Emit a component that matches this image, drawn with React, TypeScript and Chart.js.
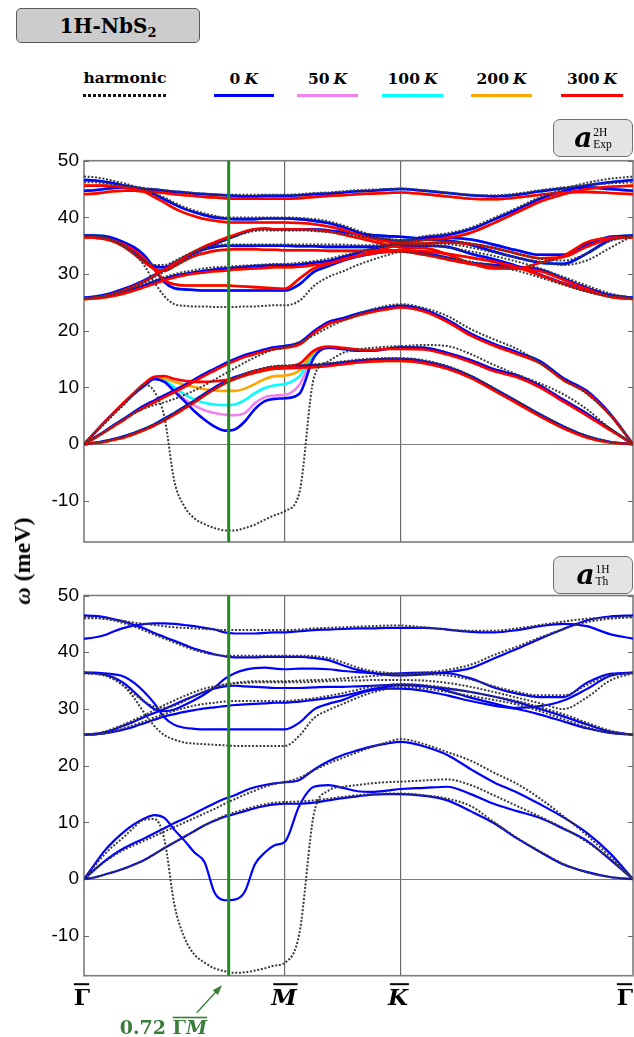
import React, { useEffect, useRef } from "react";
import { Chart, registerables } from "chart.js";
Chart.register(...registerables);

// ---------- path coordinates (Γ–M = 1, M–K = 0.577, K–Γ = 1.155) ----------
const KPATH = [
  0, 0.05, 0.1, 0.15, 0.2, 0.25, 0.3, 0.35, 0.4, 0.45, 0.5, 0.55, 0.6, 0.65, 0.7, 0.75, 0.8, 0.85, 0.9, 0.95, 1,
  1.072, 1.144, 1.216, 1.289, 1.361, 1.433, 1.505, 1.577,
  1.693, 1.808, 1.924, 2.039, 2.155, 2.27, 2.386, 2.501, 2.617, 2.732,
];
const HS_POS = [0, 1, 1.577, 2.732];
const HS_LABELS = ["Γ", "M", "K", "Γ"];
const Y_TICKS = [-10, 0, 10, 20, 30, 40, 50];
const CUT_POS = 0.72;
const CUT_LABEL = "0.72";
const TEMPS = ["0", "50", "100", "200", "300"];

// ---------- top panel: harmonic (a_Exp 2H) ----------
const H_EXP_ZA = [
  0, 0.2, 0.5, 0.9, 1.4, 2.0, 2.7, 3.5, 4.4, 5.4, 6.5, 7.6, 8.7, 9.8, 10.8, 11.7, 12.4, 13.0, 13.5, 13.8, 13.9,
  14.0, 14.1, 14.3, 14.6, 14.9, 15.1, 15.2, 15.2,
  14.8, 13.8, 12.1, 9.9, 7.6, 5.3, 3.2, 1.5, 0.4, 0,
];
const H_EXP_LA = [
  0, 1.1, 2.2, 3.4, 4.5, 5.5, 6.3, 6.9, 7.4, 8.0, 8.7, 9.5, 10.4, 11.4, 12.4, 13.4, 14.4, 15.3, 16.1, 16.7, 17.1,
  18.0, 19.2, 20.6, 21.8, 22.9, 23.8, 24.4, 24.7,
  24.0, 22.6, 20.3, 18.5, 16.8, 14.3, 11.4, 8.9, 5.2, 0,
];
const H_EXP_SOFT = [
  0, 1.8, 3.5, 5.3, 7.0, 8.9, 10.5, 9.3, 4.8, -6.6, -11.0, -13.1, -14.1, -14.8, -15.2, -15.2, -14.8, -14.2, -13.3, -12.5, -11.8,
  -8.5, 11.7, 14.6, 16.1, 16.7, 17.0, 17.2, 17.3,
  17.5, 17.3, 15.9, 14.0, 12.3, 10.7, 8.8, 6.2, 2.8, 0,
];
const H_EXP_O1 = [
  25.8, 25.9, 26.1, 26.5, 27.0, 27.6, 28.3, 28.9, 29.5, 30.0, 30.4, 30.7, 31.0, 31.2, 31.3, 31.4, 31.5, 31.6, 31.7, 31.8, 31.8,
  32.0, 32.3, 32.7, 33.3, 33.9, 34.5, 35.0, 35.4,
  35.4, 35.3, 34.7, 33.8, 32.9, 32.2, 31.6, 32.4, 34.6, 36.8,
];
const H_EXP_O2 = [
  25.8, 25.9, 26.2, 26.6, 27.2, 27.8, 28.6, 29.5, 30.4, 31.4, 32.4, 33.4, 34.3, 35.1, 35.9, 36.6, 37.2, 37.6, 37.7, 37.7, 37.7,
  37.7, 37.6, 37.4, 37.1, 36.7, 36.4, 36.2, 36.0,
  36.0, 35.8, 35.4, 34.6, 33.6, 32.7, 32.4, 33.6, 35.8, 36.8,
];
const H_EXP_O3 = [
  36.8, 36.8, 36.6, 36.0, 35.0, 33.6, 31.5, 28.6, 26.1, 24.7, 24.4, 24.3, 24.3, 24.2, 24.2, 24.2, 24.3, 24.3, 24.4, 24.5, 24.5,
  25.3, 27.9, 29.5, 30.5, 31.6, 32.5, 33.3, 33.9,
  33.5, 32.9, 32.2, 31.5, 30.6, 29.4, 28.1, 26.9, 26.1, 25.8,
];
const H_EXP_O4 = [
  36.8, 36.7, 36.4, 35.8, 34.8, 33.6, 32.4, 31.6, 31.6, 32.3, 33.2, 34.0, 34.6, 35.0, 35.2, 35.2, 35.2, 35.2, 35.2, 35.2, 35.2,
  35.2, 35.2, 35.2, 35.2, 35.1, 35.1, 35.1, 35.1,
  35.0, 34.7, 34.0, 33.2, 32.2, 31.0, 29.5, 28.0, 26.6, 25.8,
];
const H_EXP_T1 = [
  47.2, 47.1, 46.8, 46.4, 46.0, 45.5, 45.0, 44.3, 43.5, 42.6, 41.8, 41.2, 40.7, 40.3, 40.0, 40.0, 40.0, 40.0, 40.0, 40.0, 40.0,
  39.9, 39.7, 39.3, 38.6, 37.7, 36.9, 36.3, 36.0,
  36.7, 37.2, 38.2, 39.9, 41.7, 43.6, 45.0, 46.1, 46.8, 47.2,
];
const H_EXP_T2 = [
  46.2, 46.2, 46.0, 45.8, 45.6, 45.4, 45.2, 45.0, 44.8, 44.6, 44.5, 44.3, 44.2, 44.1, 44.0, 44.0, 44.0, 44.0, 44.0, 44.0, 44.0,
  44.1, 44.3, 44.4, 44.6, 44.8, 44.9, 45.0, 45.1,
  44.8, 44.4, 44.0, 43.9, 44.2, 44.8, 45.3, 45.7, 46.0, 46.2,
];

// ---------- top panel: anharmonic 0 K ----------
const EXP0_ZA = [
  0, 0.2, 0.5, 0.9, 1.4, 2.0, 2.7, 3.5, 4.5, 5.5, 6.6, 7.7, 8.9, 10.0, 11.0, 11.8, 12.4, 12.9, 13.3, 13.6, 13.7,
  13.8, 13.9, 14.1, 14.4, 14.7, 14.9, 15.0, 15.0,
  14.6, 13.6, 12.0, 9.8, 7.5, 5.2, 3.1, 1.4, 0.4, 0,
];
const EXP0_LA = [
  0, 1.1, 2.2, 3.4, 4.5, 5.7, 6.8, 7.7, 8.6, 9.5, 10.4, 11.4, 12.4, 13.3, 14.2, 15.0, 15.7, 16.2, 16.7, 17.1, 17.3,
  17.9, 19.9, 21.5, 22.2, 23.0, 23.6, 24.1, 24.4,
  23.7, 21.9, 19.5, 17.7, 16.2, 14.6, 11.6, 9.4, 5.4, 0,
];
const EXP0_SOFT = [
  0, 1.9, 3.8, 5.6, 7.3, 8.9, 10.3, 11.5, 11.0, 9.3, 7.6, 5.8, 4.3, 3.1, 2.4, 2.6, 4.0, 6.2, 7.6, 8.0, 8.1,
  8.9, 15.3, 17.0, 16.8, 16.5, 16.5, 16.8, 17.1,
  17.0, 16.1, 14.8, 13.2, 12.1, 10.3, 7.8, 5.4, 2.7, 0,
];
const EXP0_O1 = [
  25.8, 25.9, 26.1, 26.4, 26.8, 27.4, 28.0, 28.7, 29.2, 29.7, 30.0, 30.3, 30.6, 30.8, 31.0, 31.1, 31.3, 31.4, 31.5, 31.6, 31.6,
  31.7, 32.0, 32.3, 33.0, 33.7, 34.4, 35.0, 35.7,
  36.2, 36.4, 36.1, 35.2, 34.2, 33.4, 33.4, 35.2, 36.6, 36.8,
];
const EXP0_O2 = [
  25.8, 26.0, 26.3, 26.8, 27.4, 28.1, 28.9, 29.8, 30.8, 31.8, 32.8, 33.7, 34.5, 35.3, 36.0, 36.7, 37.4, 37.9, 38.0, 37.9, 37.9,
  37.9, 37.9, 37.7, 37.4, 37.1, 36.9, 36.7, 36.6,
  36.2, 35.9, 35.2, 34.0, 32.9, 32.0, 31.8, 33.6, 36.0, 36.8,
];
const EXP0_O3 = [
  36.8, 36.8, 36.7, 36.3, 35.6, 34.7, 33.3, 31.0, 28.6, 27.5, 27.3, 27.2, 27.1, 27.1, 27.1, 27.1, 27.1, 27.1, 27.1, 27.1, 27.1,
  28.2, 30.4, 31.4, 32.4, 33.1, 33.6, 34.0, 34.2,
  33.7, 32.9, 32.0, 31.6, 31.3, 30.8, 29.2, 27.6, 26.3, 25.8,
];
const EXP0_O4 = [
  36.8, 36.7, 36.5, 36.0, 35.0, 33.8, 32.5, 31.4, 31.2, 32.0, 33.0, 33.8, 34.4, 34.8, 35.0, 35.0, 35.0, 35.0, 35.0, 35.0, 35.0,
  34.9, 34.9, 34.8, 34.8, 34.8, 34.8, 34.9, 35.0,
  35.0, 34.8, 33.6, 32.6, 31.4, 29.9, 28.4, 27.2, 26.2, 25.8,
];
const EXP0_T1 = [
  46.6, 46.5, 46.3, 46.0, 45.6, 45.3, 44.9, 44.1, 43.2, 42.3, 41.5, 40.9, 40.4, 40.0, 39.8, 39.7, 39.7, 39.7, 39.8, 39.8, 39.8,
  39.7, 39.4, 39.0, 38.3, 37.4, 36.6, 36.0, 35.7,
  36.5, 36.9, 37.9, 39.6, 41.4, 43.3, 44.6, 45.6, 46.2, 46.6,
];
const EXP0_T2 = [
  44.7, 44.8, 45.0, 45.2, 45.3, 45.2, 45.0, 44.9, 44.7, 44.5, 44.4, 44.2, 44.1, 44.0, 43.9, 43.8, 43.7, 43.7, 43.8, 43.8, 43.8,
  43.9, 44.1, 44.2, 44.4, 44.6, 44.7, 44.9, 45.0,
  44.7, 44.3, 43.9, 43.7, 44.0, 44.6, 45.1, 45.3, 45.0, 44.7,
];

// ---------- top panel: soft branch at 50, 100, 200, 300 K ----------
const EXP50_SOFT = [
  0, 1.9, 3.8, 5.6, 7.3, 8.9, 10.3, 11.5, 11.1, 9.5, 7.9, 6.8, 6.0, 5.5, 5.2, 5.1, 5.5, 7.2, 8.3, 8.6, 8.7,
  10.5, 15.6, 17.0, 16.8, 16.5, 16.5, 16.8, 17.1,
  17.0, 16.1, 14.8, 13.2, 12.1, 10.3, 7.8, 5.4, 2.7, 0,
];
const EXP100_SOFT = [
  0, 1.9, 3.8, 5.6, 7.3, 8.9, 10.3, 11.6, 11.3, 10.0, 8.8, 7.9, 7.3, 7.0, 6.9, 7.0, 7.8, 9.0, 9.9, 10.4, 10.6,
  12.0, 15.8, 17.0, 16.8, 16.5, 16.5, 16.8, 17.1,
  17.0, 16.1, 14.8, 13.2, 12.1, 10.3, 7.8, 5.4, 2.7, 0,
];
const EXP200_SOFT = [
  0, 1.9, 3.8, 5.6, 7.3, 9.0, 10.5, 11.8, 11.6, 11.0, 10.5, 10.1, 9.7, 9.5, 9.4, 9.4, 9.8, 10.6, 11.5, 12.0, 12.1,
  13.0, 16.2, 17.1, 16.9, 16.6, 16.5, 16.8, 17.1,
  17.0, 16.1, 14.8, 13.2, 12.1, 10.3, 7.8, 5.4, 2.7, 0,
];
const EXP300_SOFT = [
  0, 1.9, 3.8, 5.6, 7.4, 9.1, 10.7, 11.9, 12.0, 11.5, 11.2, 11.0, 11.0, 11.1, 11.3, 11.6, 12.3, 12.9, 13.3, 13.6, 13.7,
  14.2, 16.5, 17.2, 17.0, 16.7, 16.6, 16.8, 16.8,
  16.7, 15.8, 14.5, 12.9, 11.8, 10.0, 7.5, 5.1, 2.5, 0,
];

// ---------- top panel: acoustic + optical branches at 300 K ----------
const EXP300_ZA = [
  0, 0.2, 0.4, 0.8, 1.2, 1.8, 2.5, 3.3, 4.2, 5.2, 6.3, 7.4, 8.6, 9.7, 10.7, 11.5, 12.1, 12.6, 13.0, 13.3, 13.4,
  13.5, 13.6, 13.8, 14.1, 14.4, 14.6, 14.7, 14.7,
  14.3, 13.3, 11.7, 9.5, 7.2, 4.9, 2.8, 1.2, 0.3, 0,
];
const EXP300_LA = [
  0, 1.0, 2.1, 3.2, 4.3, 5.5, 6.5, 7.4, 8.3, 9.2, 10.1, 11.1, 12.1, 13.0, 13.9, 14.7, 15.4, 15.9, 16.4, 16.8, 17.0,
  17.6, 19.6, 21.2, 21.9, 22.7, 23.3, 23.8, 24.1,
  23.4, 21.6, 19.2, 17.4, 15.9, 14.3, 11.3, 9.1, 5.2, 0,
];
const EXP300_O1 = [
  25.6, 25.7, 25.9, 26.2, 26.6, 27.1, 27.7, 28.3, 28.9, 29.4, 29.8, 30.1, 30.3, 30.5, 30.6, 30.8, 30.9, 31.0, 31.1, 31.2, 31.2,
  31.3, 31.6, 31.9, 32.5, 33.2, 33.9, 34.6, 35.3,
  35.4, 35.6, 35.3, 34.6, 33.6, 32.8, 33.0, 34.8, 36.2, 36.5,
];
const EXP300_O2 = [
  25.6, 25.8, 26.1, 26.6, 27.2, 27.9, 28.7, 29.7, 30.8, 31.9, 33.0, 34.0, 34.9, 35.6, 36.3, 36.9, 37.5, 37.9, 38.0, 37.9, 37.9,
  37.9, 37.8, 37.5, 37.0, 36.4, 35.8, 35.2, 34.7,
  34.6, 33.5, 31.9, 31.0, 31.0, 32.0, 33.2, 35.6, 36.4, 36.5,
];
const EXP300_O3 = [
  36.5, 36.5, 36.3, 35.9, 35.2, 34.2, 32.8, 30.8, 28.9, 28.2, 28.0, 28.0, 28.0, 28.0, 28.0, 27.9, 27.8, 27.7, 27.6, 27.5, 27.4,
  29.2, 31.0, 31.8, 32.6, 33.2, 33.6, 33.9, 34.0,
  33.4, 32.6, 31.8, 31.3, 31.0, 30.5, 29.0, 27.4, 26.0, 25.6,
];
const EXP300_O4 = [
  36.5, 36.4, 36.2, 35.7, 34.8, 33.5, 32.1, 30.9, 30.6, 31.4, 32.4, 33.2, 33.7, 34.1, 34.3, 34.4, 34.4, 34.4, 34.3, 34.3, 34.2,
  34.2, 34.2, 34.1, 34.1, 34.1, 34.1, 34.2, 34.2,
  34.0, 33.6, 32.9, 32.2, 31.2, 29.8, 28.3, 27.0, 26.0, 25.6,
];
const EXP300_T1 = [
  45.6, 45.6, 45.6, 45.5, 45.3, 45.0, 44.5, 43.6, 42.6, 41.6, 40.8, 40.2, 39.7, 39.4, 39.2, 39.1, 39.1, 39.1, 39.1, 39.1, 39.1,
  39.0, 38.8, 38.4, 37.8, 37.0, 36.3, 35.8, 35.5,
  36.0, 36.4, 37.3, 39.0, 40.9, 42.8, 44.1, 45.0, 45.4, 45.6,
];
const EXP300_T2 = [
  44.1, 44.2, 44.4, 44.6, 44.7, 44.7, 44.6, 44.5, 44.3, 44.1, 43.9, 43.8, 43.6, 43.5, 43.4, 43.3, 43.3, 43.3, 43.3, 43.3, 43.3,
  43.4, 43.6, 43.8, 43.9, 44.1, 44.2, 44.3, 44.4,
  44.1, 43.7, 43.3, 43.2, 43.5, 44.0, 44.4, 44.5, 44.3, 44.1,
];

// ---------- bottom panel: harmonic (a_Th 1H) ----------
const H_TH_ZA = [
  0, 0.3, 0.8, 1.3, 1.9, 2.6, 3.4, 4.4, 5.5, 6.5, 7.5, 8.5, 9.5, 10.4, 11.2, 11.8, 12.3, 12.8, 13.2, 13.5, 13.6,
  13.7, 13.9, 14.2, 14.5, 14.8, 15.0, 15.1, 15.1,
  14.8, 14.2, 12.9, 10.1, 7.3, 4.9, 2.7, 1.2, 0.4, 0,
];
const H_TH_LA = [
  0, 1.6, 3.0, 4.2, 5.2, 6.0, 6.8, 7.6, 8.4, 9.2, 10.0, 10.8, 11.6, 12.4, 13.3, 14.1, 14.9, 15.6, 16.3, 16.8, 17.1,
  17.9, 19.2, 20.4, 21.4, 22.4, 23.3, 24.1, 24.7,
  23.8, 22.4, 20.9, 18.8, 16.8, 14.2, 11.1, 7.8, 4.0, 0,
];
const H_TH_SOFT = [
  0, 2.2, 4.3, 6.0, 7.5, 9.2, 10.5, 10.6, 7.0, -4.5, -10.3, -13.3, -14.7, -15.7, -16.2, -16.5, -16.4, -16.1, -15.7, -15.2, -14.7,
  -9.5, 11.5, 15.6, 16.3, 16.6, 16.9, 17.1, 17.2,
  17.4, 17.6, 16.6, 14.8, 12.9, 11.0, 9.0, 6.6, 3.6, 0,
];
const H_TH_O1 = [
  25.4, 25.5, 25.7, 26.1, 26.6, 27.2, 27.8, 28.5, 29.1, 29.7, 30.2, 30.6, 30.9, 31.1, 31.3, 31.4, 31.4, 31.4, 31.4, 31.4, 31.4,
  31.6, 31.9, 32.3, 32.8, 33.4, 33.9, 34.2, 34.4,
  34.2, 33.7, 33.0, 32.2, 31.4, 30.3, 29.1, 27.6, 26.2, 25.4,
];
const H_TH_O2 = [
  25.4, 25.6, 26.0, 26.6, 27.3, 28.1, 28.9, 29.8, 30.7, 31.5, 32.3, 33.0, 33.6, 34.0, 34.3, 34.5, 34.6, 34.7, 34.7, 34.7, 34.7,
  34.7, 34.8, 34.9, 35.0, 35.0, 35.1, 35.1, 35.1,
  35.0, 34.6, 33.9, 33.0, 32.0, 31.0, 30.0, 32.0, 35.0, 36.3,
];
const H_TH_O3 = [
  36.3, 36.2, 36.0, 35.2, 34.0, 31.9, 29.3, 27.0, 25.4, 24.6, 24.1, 23.9, 23.8, 23.7, 23.6, 23.5, 23.5, 23.5, 23.5, 23.5, 23.5,
  25.3, 28.4, 29.8, 30.9, 32.0, 32.9, 33.5, 33.9,
  33.6, 33.0, 32.3, 31.6, 30.8, 29.6, 28.2, 26.8, 25.8, 25.4,
];
const H_TH_O4 = [
  36.3, 36.2, 35.9, 35.2, 34.0, 32.6, 31.3, 30.4, 30.2, 30.6, 31.4, 32.3, 33.1, 33.8, 34.3, 34.6, 34.8, 34.9, 34.9, 34.9, 34.9,
  35.0, 35.1, 35.2, 35.4, 35.6, 35.8, 36.0, 36.1,
  36.1, 35.9, 35.2, 34.0, 33.0, 32.4, 32.4, 34.2, 36.0, 36.3,
];
const H_TH_T1 = [
  46.2, 46.1, 45.9, 45.6, 45.1, 44.5, 43.8, 43.1, 42.4, 41.7, 41.0, 40.4, 39.9, 39.6, 39.4, 39.4, 39.4, 39.4, 39.4, 39.4, 39.4,
  39.4, 39.3, 39.0, 38.2, 37.3, 36.7, 36.4, 36.2,
  36.4, 36.9, 37.8, 39.5, 41.0, 42.6, 44.1, 45.3, 45.9, 46.2,
];
const H_TH_T2 = [
  46.0, 46.0, 45.9, 45.7, 45.5, 45.2, 45.0, 44.8, 44.6, 44.4, 44.3, 44.2, 44.1, 44.0, 43.9, 43.9, 43.9, 43.9, 43.9, 43.9, 43.9,
  44.0, 44.2, 44.3, 44.4, 44.5, 44.6, 44.7, 44.7,
  44.4, 44.0, 43.8, 43.8, 44.2, 44.8, 45.4, 45.9, 46.1, 46.2,
];

// ---------- bottom panel: anharmonic 0 K (a_Th 1H) ----------
const TH_ZA = [
  0, 0.3, 0.8, 1.3, 1.9, 2.6, 3.4, 4.4, 5.5, 6.5, 7.5, 8.5, 9.5, 10.3, 11.0, 11.5, 12.0, 12.5, 12.9, 13.2, 13.3,
  13.3, 13.5, 13.9, 14.3, 14.6, 14.9, 15.0, 15.0,
  14.7, 13.9, 12.0, 9.9, 7.2, 4.8, 2.6, 1.3, 0.4, 0,
];
const TH_LA = [
  0, 1.6, 3.1, 4.4, 5.5, 6.4, 7.2, 8.1, 9.0, 9.9, 10.7, 11.6, 12.5, 13.4, 14.2, 14.8, 15.6, 16.2, 16.6, 16.9, 17.1,
  17.5, 19.3, 20.8, 21.9, 22.7, 23.4, 23.9, 24.2,
  23.4, 21.9, 19.4, 17.1, 15.3, 13.2, 10.9, 8.2, 4.6, 0,
];
const TH_SOFT = [
  0, 2.5, 4.9, 6.8, 8.4, 9.7, 10.7, 11.3, 10.8, 8.7, 6.8, 4.7, 3.0, -2.4, -3.7, -3.6, -2.2, 2.6, 4.7, 6.0, 6.6,
  13.0, 16.3, 16.6, 16.1, 15.5, 15.4, 15.6, 15.9,
  16.1, 16.3, 15.0, 13.3, 12.0, 10.8, 8.9, 6.8, 3.5, 0,
];
const TH_O1 = [
  25.5, 25.5, 25.7, 26.0, 26.4, 26.9, 27.5, 28.1, 28.7, 29.1, 29.5, 29.8, 30.1, 30.3, 30.5, 30.7, 30.8, 30.9, 31.0, 31.1, 31.1,
  31.3, 31.6, 31.9, 32.3, 32.9, 33.5, 33.9, 34.2,
  34.0, 33.6, 33.0, 32.2, 31.2, 30.0, 28.7, 27.3, 26.0, 25.5,
];
const TH_O2 = [
  25.5, 25.6, 25.9, 26.4, 27.1, 27.8, 28.6, 29.3, 30.0, 30.8, 31.6, 32.3, 33.0, 33.6, 34.0, 34.1, 34.0, 33.9, 33.8, 33.7, 33.7,
  33.7, 33.8, 33.9, 33.9, 34.0, 34.1, 34.2, 34.3,
  34.1, 33.2, 32.0, 31.0, 30.2, 30.5, 31.5, 33.5, 35.8, 36.4,
];
const TH_O3 = [
  36.4, 36.4, 36.3, 36.1, 35.7, 34.6, 33.0, 31.0, 28.5, 27.2, 26.7, 26.5, 26.4, 26.4, 26.4, 26.4, 26.4, 26.4, 26.4, 26.4, 26.4,
  27.6, 29.9, 30.9, 31.6, 32.6, 33.3, 33.6, 33.6,
  33.2, 32.4, 31.4, 30.6, 30.0, 29.0, 27.8, 26.6, 25.8, 25.5,
];
const TH_O4 = [
  36.4, 36.3, 36.1, 35.5, 34.5, 33.0, 31.3, 30.0, 29.6, 29.9, 30.7, 31.6, 32.6, 33.8, 35.3, 36.3, 36.9, 37.2, 37.3, 37.1, 37.0,
  37.1, 37.1, 37.0, 36.7, 36.5, 36.3, 36.2, 36.3,
  36.4, 36.3, 35.4, 33.8, 32.7, 32.1, 32.1, 34.6, 36.2, 36.4,
];
const TH_T1 = [
  46.5, 46.4, 46.2, 45.8, 45.4, 44.8, 44.2, 43.4, 42.7, 42.0, 41.3, 40.6, 40.1, 39.6, 39.3, 39.1, 39.1, 39.1, 39.2, 39.2, 39.2,
  39.2, 39.0, 38.6, 37.7, 36.9, 36.4, 36.0, 35.9,
  36.1, 36.5, 37.2, 38.9, 40.6, 42.4, 44.1, 45.6, 46.3, 46.5,
];
const TH_T2 = [
  42.4, 42.6, 43.0, 43.7, 44.3, 44.7, 44.95, 45.1, 45.1, 45.0, 44.8, 44.6, 44.3, 44.0, 43.5, 43.3, 43.3, 43.3, 43.4, 43.5, 43.5,
  43.7, 43.9, 44.0, 44.1, 44.2, 44.2, 44.3, 44.3,
  44.3, 44.0, 43.6, 43.5, 43.9, 44.6, 45.0, 44.6, 43.2, 42.4,
];

// ---------- styles ----------
const TEMP_COLORS = ["#0000ff", "#ee82ee", "#00ffff", "#ffa500", "#ff0000"];
const HARM_COLOR = "#3a3a3a";
const CUT_COLOR = "#228b22";
const NOTE_COLOR = "#3b7d3b";
const SERIF = '"Liberation Serif", "Times New Roman", serif';
const WIDE_SERIF = '"DejaVu Serif", "Liberation Serif", serif';
const SANS = '"Liberation Sans", Arial, Helvetica, sans-serif';

function series(arr: number[]) {
  return arr.map((y, i) => ({ x: KPATH[i], y }));
}

function bandSet(bands: number[][], color: string, width: number, order: number, dash: number[] = []) {
  return bands.map((b) => ({
    data: series(b),
    borderColor: color,
    borderWidth: width,
    borderDash: dash,
    pointRadius: 0,
    pointHoverRadius: 0,
    fill: false,
    cubicInterpolationMode: "monotone",
    order,
  }));
}

function cutLine(order: number) {
  return {
    data: [
      { x: CUT_POS, y: -30 },
      { x: CUT_POS, y: 60 },
    ],
    borderColor: CUT_COLOR,
    borderWidth: 3,
    pointRadius: 0,
    fill: false,
    tension: 0,
    order,
  };
}

const framePlugin = {
  id: "frame",
  beforeDatasetsDraw(chart: any) {
    const { ctx, chartArea: a, scales } = chart;
    const y = scales.y;
    ctx.save();
    ctx.strokeStyle = "#7c7c7c";
    ctx.lineWidth = 1.6;
    ctx.strokeRect(a.left, a.top, a.right - a.left, a.bottom - a.top);
    ctx.strokeStyle = "#666";
    ctx.lineWidth = 1;
    Y_TICKS.forEach((v) => {
      const py = Math.round(y.getPixelForValue(v)) + 0.5;
      ctx.beginPath();
      ctx.moveTo(a.left, py);
      ctx.lineTo(a.left + 5, py);
      ctx.moveTo(a.right, py);
      ctx.lineTo(a.right - 5, py);
      ctx.stroke();
    });
    ctx.restore();
  },
};

const LABEL_SHIFT = [-2, -1, -3, -8];
const axisLabelPlugin = {
  id: "hsLabels",
  afterDraw(chart: any) {
    const { ctx, chartArea: a, scales } = chart;
    const x = scales.x;
    ctx.save();
    ctx.fillStyle = "#000";
    ctx.textAlign = "center";
    ctx.textBaseline = "alphabetic";
    HS_LABELS.forEach((lab, i) => {
      const px = x.getPixelForValue(HS_POS[i]) + LABEL_SHIFT[i];
      ctx.font = (lab === "Γ" ? "bold " : "italic bold ") + "23px " + WIDE_SERIF;
      const w = ctx.measureText(lab).width;
      ctx.fillText(lab, px, a.bottom + 29.5);
      const off = lab === "Γ" ? 0 : 2;
      ctx.fillRect(px - w / 2 + off, a.bottom + 7.5, w - 1, 2);
    });

    // annotation: arrow + "0.72 ΓM"
    const xg = x.getPixelForValue(CUT_POS);
    ctx.strokeStyle = NOTE_COLOR;
    ctx.fillStyle = NOTE_COLOR;
    ctx.lineWidth = 1.3;
    const hx = xg - 8, hy = a.bottom + 11;
    const tx = xg - 32, ty = a.bottom + 37;
    ctx.beginPath();
    ctx.moveTo(tx, ty);
    ctx.lineTo(hx, hy);
    ctx.stroke();
    const ang = Math.atan2(hy - ty, hx - tx);
    ctx.beginPath();
    ctx.moveTo(hx + 2 * Math.cos(ang), hy + 2 * Math.sin(ang));
    ctx.lineTo(hx - 8 * Math.cos(ang) + 3.5 * Math.sin(ang), hy - 8 * Math.sin(ang) - 3.5 * Math.cos(ang));
    ctx.lineTo(hx - 8 * Math.cos(ang) - 3.5 * Math.sin(ang), hy - 8 * Math.sin(ang) + 3.5 * Math.cos(ang));
    ctx.closePath();
    ctx.fill();

    ctx.textAlign = "left";
    const by = a.bottom + 58;
    let cx = xg - 109;
    ctx.font = "bold 19px " + WIDE_SERIF;
    const lead = CUT_LABEL + " ";
    ctx.fillText(lead, cx, by);
    cx += ctx.measureText(lead).width;
    const barStart = cx;
    ctx.fillText("Γ", cx, by);
    cx += ctx.measureText("Γ").width;
    ctx.font = "italic bold 19px " + WIDE_SERIF;
    ctx.fillText("M", cx, by);
    cx += ctx.measureText("M").width;
    ctx.fillRect(barStart, a.bottom + 41, cx - barStart, 1.6);
    ctx.restore();
  },
};

function makeConfig(datasets: any[], yMin: number, padTop: number, xHeight: number, extra: any[]) {
  return {
    type: "line",
    data: { datasets },
    options: {
      animation: false,
      responsive: false,
      maintainAspectRatio: false,
      events: [],
      layout: { padding: { left: 0, right: 1, top: padTop, bottom: 0 } },
      plugins: { legend: { display: false }, tooltip: { enabled: false }, title: { display: false } },
      scales: {
        x: {
          type: "linear",
          min: 0,
          max: 2.732,
          afterBuildTicks: (s: any) => {
            s.ticks = HS_POS.map((v) => ({ value: v }));
          },
          afterFit: (s: any) => {
            s.height = xHeight;
          },
          ticks: { display: false },
          grid: {
            drawTicks: false,
            lineWidth: 1.2,
            color: (c: any) => {
              const v = c.tick ? c.tick.value : -1;
              return v > 0.5 && v < 2 ? "#6b6b6b" : "rgba(0,0,0,0)";
            },
          },
          border: { display: false },
        },
        y: {
          type: "linear",
          min: yMin,
          max: 50,
          afterBuildTicks: (s: any) => {
            s.ticks = Y_TICKS.map((v) => ({ value: v }));
          },
          afterFit: (s: any) => {
            s.width = 84;
          },
          ticks: { color: "#000", font: { family: SANS, size: 19 }, padding: 5 },
          grid: {
            drawTicks: false,
            lineWidth: 1,
            color: (c: any) => (c.tick && c.tick.value === 0 ? "#7a7a7a" : "rgba(0,0,0,0)"),
          },
          border: { display: false },
        },
      },
    },
    plugins: [framePlugin, ...extra],
  };
}

function ABox({ left, top, sup, sub }: { left: number; top: number; sup: string; sub: string }) {
  return (
    <div
      style={{
        position: "absolute",
        left,
        top,
        width: 78,
        height: 36,
        background: "#e4e4e4",
        border: "1px solid #707070",
        borderRadius: 7,
        display: "flex",
        alignItems: "center",
        justifyContent: "center",
        fontFamily: SERIF,
        color: "#000",
      }}
    >
      <span style={{ fontStyle: "italic", fontWeight: "bold", fontSize: 28, lineHeight: "28px", fontFamily: WIDE_SERIF }}>a</span>
      <span
        style={{
          display: "inline-flex",
          flexDirection: "column",
          fontSize: 11.5,
          lineHeight: "12px",
          marginLeft: 1,
          marginTop: 0,
        }}
      >
        <span>{sup}</span>
        <span>{sub}</span>
      </span>
    </div>
  );
}

export default function App() {
  const topRef = useRef<HTMLCanvasElement>(null);
  const botRef = useRef<HTMLCanvasElement>(null);

  useEffect(() => {
    const topSets = [
      ...bandSet([EXP0_ZA, EXP0_LA, EXP50_SOFT, EXP0_O1, EXP0_O2, EXP0_O3, EXP0_O4, EXP0_T1, EXP0_T2], TEMP_COLORS[1], 2.6, 6),
      ...bandSet([EXP0_ZA, EXP0_LA, EXP100_SOFT, EXP0_O1, EXP0_O2, EXP0_O3, EXP0_O4, EXP0_T1, EXP0_T2], TEMP_COLORS[2], 2.6, 5),
      ...bandSet([EXP300_ZA, EXP300_LA, EXP200_SOFT, EXP300_O1, EXP300_O2, EXP300_O3, EXP300_O4, EXP300_T1, EXP300_T2], TEMP_COLORS[3], 2.6, 4),
      ...bandSet([EXP0_ZA, EXP0_LA, EXP0_SOFT, EXP0_O1, EXP0_O2, EXP0_O3, EXP0_O4, EXP0_T1, EXP0_T2], TEMP_COLORS[0], 2.6, 3),
      ...bandSet([EXP300_ZA, EXP300_LA, EXP300_SOFT, EXP300_O1, EXP300_O2, EXP300_O3, EXP300_O4, EXP300_T1, EXP300_T2], TEMP_COLORS[4], 2.6, 2),
      ...bandSet([H_EXP_ZA, H_EXP_LA, H_EXP_SOFT, H_EXP_O1, H_EXP_O2, H_EXP_O3, H_EXP_O4, H_EXP_T1, H_EXP_T2], HARM_COLOR, 2, 1, [2, 1.7]),
      cutLine(0),
    ];
    const botSets = [
      ...bandSet([TH_ZA, TH_LA, TH_SOFT, TH_O1, TH_O2, TH_O3, TH_O4, TH_T1, TH_T2], TEMP_COLORS[0], 2.2, 2),
      ...bandSet([H_TH_ZA, H_TH_LA, H_TH_SOFT, H_TH_O1, H_TH_O2, H_TH_O3, H_TH_O4, H_TH_T1, H_TH_T2], HARM_COLOR, 2, 1, [2, 1.7]),
      cutLine(0),
    ];
    const c1 = new Chart(topRef.current as HTMLCanvasElement, makeConfig(topSets, -17.25, 20.7, 18, []) as any);
    const c2 = new Chart(botRef.current as HTMLCanvasElement, makeConfig(botSets, -17, 35.5, 61.3, [axisLabelPlugin]) as any);
    return () => {
      c1.destroy();
      c2.destroy();
    };
  }, []);

  const legendLines = [
    { x0: 213.5, x1: 274 },
    { x0: 297, x1: 358 },
    { x0: 382, x1: 443 },
    { x0: 471, x1: 532 },
    { x0: 561, x1: 623 },
  ];

  return (
    <div
      style={{
        position: "absolute",
        left: 0,
        top: 0,
        width: 634,
        height: 1037,
        background: "#fff",
        overflow: "hidden",
        fontFamily: SERIF,
        color: "#000",
      }}
    >
      <canvas ref={topRef} width={634} height={420} style={{ position: "absolute", left: 0, top: 140, width: 634, height: 420 }} />
      <canvas ref={botRef} width={634} height={477} style={{ position: "absolute", left: 0, top: 560, width: 634, height: 477 }} />

      {/* title */}
      <div
        style={{
          position: "absolute",
          left: 16,
          top: 8,
          width: 182,
          height: 33,
          background: "#cccccc",
          border: "1px solid #5a5a5a",
          borderRadius: 5,
          display: "flex",
          alignItems: "center",
          justifyContent: "center",
          fontWeight: "bold",
          fontSize: 20,
          fontFamily: WIDE_SERIF,
        }}
      >
        <span>
          1H-NbS<span style={{ fontSize: 13, position: "relative", top: 4 }}>2</span>
        </span>
      </div>

      {/* legend */}
      <div
        style={{
          position: "absolute",
          left: 73,
          top: 69,
          width: 104,
          textAlign: "center",
          fontSize: 15.5,
          fontWeight: "bold",
          lineHeight: "18px",
          fontFamily: WIDE_SERIF,
        }}
      >
        harmonic
      </div>
      <div
        style={{
          position: "absolute",
          left: 83,
          top: 94,
          width: 84,
          height: 3,
          background: "repeating-linear-gradient(to right, #111 0px, #111 3px, transparent 3px, transparent 5px)",
        }}
      />
      {TEMPS.map((t, i) => {
        const l = legendLines[i];
        const cx = (l.x0 + l.x1) / 2;
        return (
          <React.Fragment key={t}>
            <div
              style={{
                position: "absolute",
                left: cx - 40,
                top: 70,
                width: 80,
                textAlign: "center",
                fontSize: 15.5,
                fontWeight: "bold",
                lineHeight: "18px",
                whiteSpace: "nowrap",
                fontFamily: WIDE_SERIF,
              }}
            >
              {t}
              <span style={{ fontStyle: "italic", marginLeft: 4 }}>K</span>
            </div>
            <div
              style={{
                position: "absolute",
                left: l.x0,
                top: 93.5,
                width: l.x1 - l.x0,
                height: 3,
                background: TEMP_COLORS[i],
              }}
            />
          </React.Fragment>
        );
      })}

      <ABox left={553} top={119} sup="2H" sub="Exp" />
      <ABox left={553} top={556} sup="1H" sub="Th" />

      {/* y axis title */}
      <div
        style={{
          position: "absolute",
          left: 22,
          top: 561,
          transform: "translate(-50%, -50%) rotate(-90deg)",
          whiteSpace: "nowrap",
          fontWeight: "bold",
          fontSize: 24,
          lineHeight: "26px",
        }}
      >
        <span style={{ fontStyle: "italic" }}>ω</span> (meV)
      </div>
    </div>
  );
}
